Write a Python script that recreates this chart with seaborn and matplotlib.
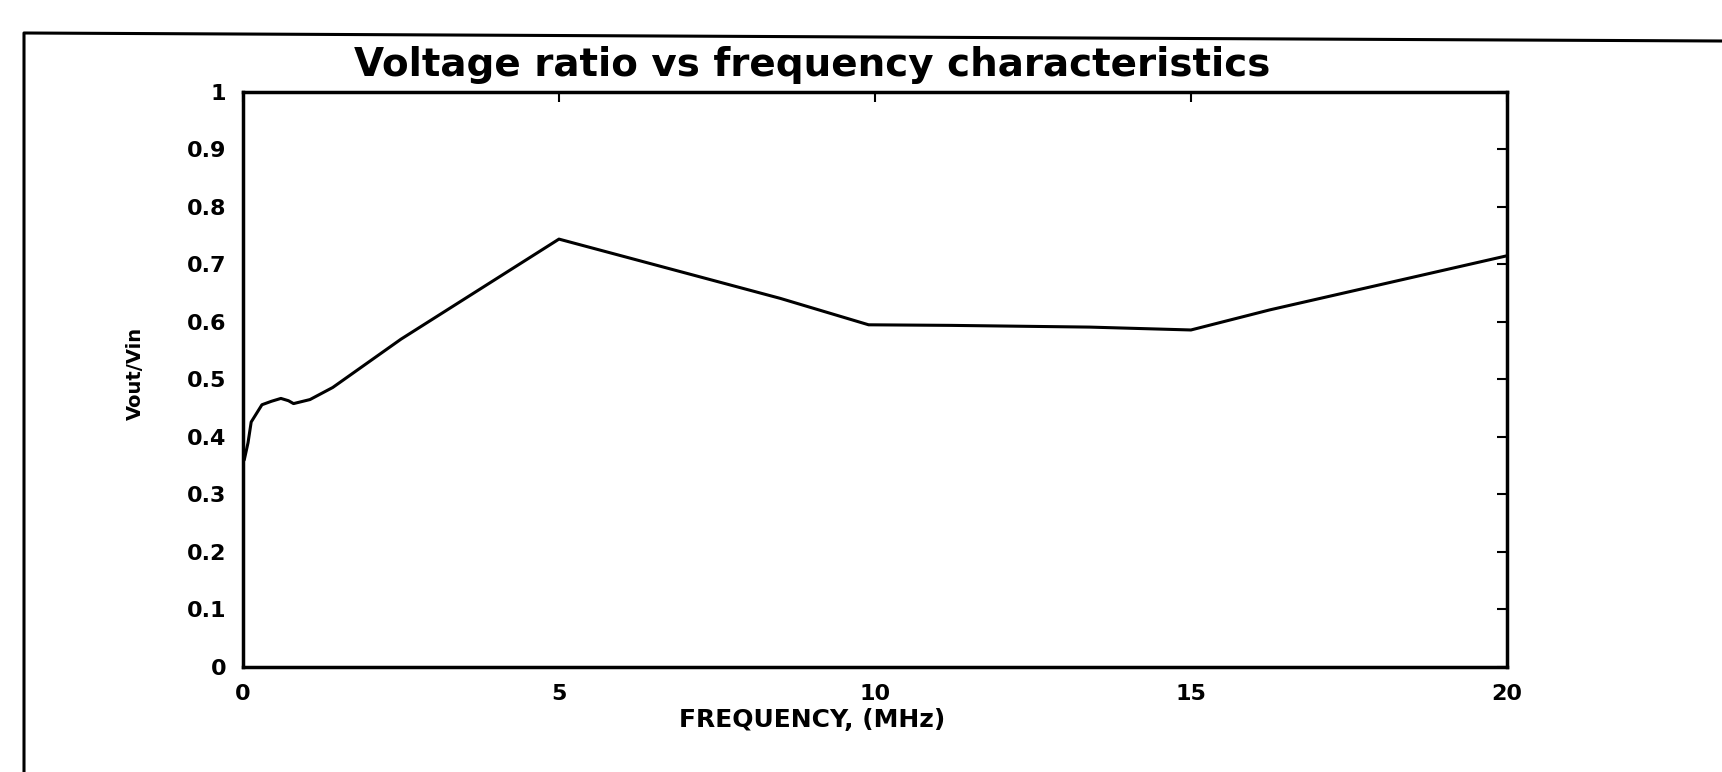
import matplotlib
matplotlib.use('Agg')
import matplotlib.pyplot as plt
import seaborn as sns
import pandas as pd
from matplotlib.lines import Line2D

# values
freq_mhz = [0.02, 0.08, 0.13, 0.3, 0.45, 0.6, 0.72, 0.8, 1.06, 1.42, 2.5, 3.75, 5.0, 8.5, 9.9, 11.2, 13.4, 15.0, 16.25, 20.0]
v_ratio = [0.36, 0.39, 0.426, 0.456, 0.462, 0.467, 0.463, 0.458, 0.465, 0.486, 0.57, 0.657, 0.744, 0.641, 0.595, 0.594, 0.591, 0.586, 0.621, 0.715]

x_ticks = [0, 5, 10, 15, 20]
x_ticklabels = ['0', '5', '10', '15', '20']
y_ticks = [0, 0.1, 0.2, 0.3, 0.4, 0.5, 0.6, 0.7, 0.8, 0.9, 1]
y_ticklabels = ['0', '0.1', '0.2', '0.3', '0.4', '0.5', '0.6', '0.7', '0.8', '0.9', '1']

df = pd.DataFrame({'freq': freq_mhz, 'ratio': v_ratio})

sns.set_style('white')
plt.rcParams['font.family'] = ['DejaVu Sans']
plt.rcParams['text.color'] = 'black'
plt.rcParams['axes.labelcolor'] = 'black'

fig = plt.figure(figsize=(17.22, 7.72), dpi=100)
ax = fig.add_axes([0.1411, 0.136, 0.734, 0.745])

sns.lineplot(data=df, x='freq', y='ratio', color='black', linewidth=2.2, ax=ax)

ax.set_xlim(0, 20)
ax.set_ylim(0, 1)
ax.set_xticks(x_ticks)
ax.set_xticklabels(x_ticklabels)
ax.set_yticks(y_ticks)
ax.set_yticklabels(y_ticklabels)
ax.tick_params(direction='in', length=7, width=1.5, top=True, right=True,
               labelsize=16, pad=12, colors='black')
for lbl in ax.get_xticklabels() + ax.get_yticklabels():
    lbl.set_fontweight('bold')
for sp in ax.spines.values():
    sp.set_visible(True)
    sp.set_color('black')
    sp.set_linewidth(2.5)

ax.set_title('Voltage ratio vs frequency characteristics', fontsize=28,
             fontweight='bold', x=0.45, y=1.046, va='center', pad=0, color='black')
ax.set_xlabel('FREQUENCY, (MHz)', fontsize=18, fontweight='bold')
ax.xaxis.set_label_coords(0.45, -0.092)
ax.set_ylabel('Vout/Vin', fontsize=14, fontweight='bold')
ax.yaxis.set_label_coords(-0.085, 0.511)
ax.xaxis.label.set_va('center')
ax.yaxis.label.set_va('center')

# page frame from the scan
fig.add_artist(Line2D([24 / 1722, 24 / 1722, 1], [0, 1 - 33 / 772, 1 - 41 / 772],
                      transform=fig.transFigure, color='black', linewidth=2.2))

fig.savefig('out.png', dpi=100, facecolor='white')
